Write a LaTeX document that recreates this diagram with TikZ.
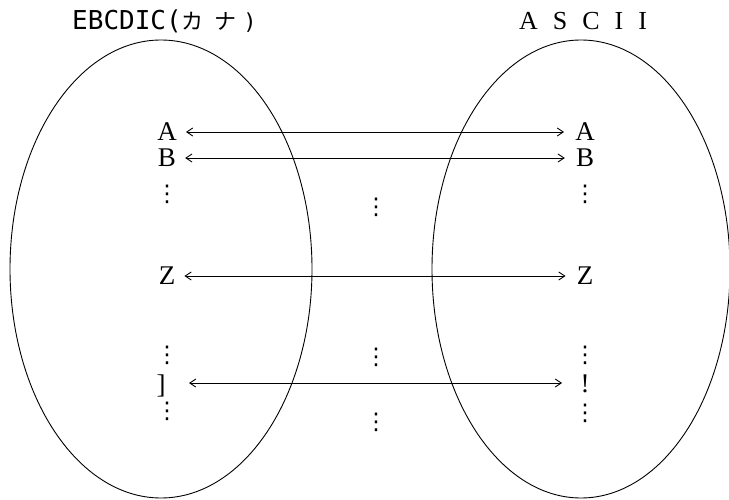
\documentclass[tikz,border=0pt]{standalone}
\usepackage{fontspec}
\setmainfont{Liberation Serif}
\newfontfamily\monof{DejaVu Sans Mono}
\newfontfamily\jpf{Noto Sans CJK JP}
\newfontfamily\symf{DejaVu Sans}
\usetikzlibrary{arrows.meta}
\begin{document}
\begin{tikzpicture}[x=1pt,y=-1pt,
  lab/.style={font=\fontsize{27}{27}\selectfont, inner sep=1pt},
  vd/.style={font=\symf\fontsize{23}{23}\selectfont, inner sep=0pt},
  conn/.style={<->, >={Straight Barb[length=6pt,width=8pt]}, line width=0.9pt},
  oval/.style={draw, line width=0.9pt}]
\useasboundingbox (0,0) rectangle (729,500);
% ellipses
\draw[oval] (161,269) ellipse [x radius=151, y radius=229];
\draw[oval] (581,269) ellipse [x radius=149, y radius=229];
% titles
\node[inner sep=0pt, anchor=west] (t1) at (72,21) {\monof\fontsize{26}{26}\selectfont EBCDIC(\jpf\fontsize{22}{22}\selectfont カ\hspace{0.5em}ナ\hspace{0.3em}\monof )};
\node[inner sep=0pt] (t2) at (583,21) {\fontsize{26}{26}\selectfont A\hspace{15pt}S\hspace{15pt}C\hspace{15pt}I\hspace{15pt}I};
% left column
\node[lab] (lA) at (167,132) {A};
\node[lab] (lB) at (167,158) {B};
\node[vd] (ld1) at (167,194) {⋮};
\node[lab] (lZ) at (167,276) {Z};
\node[vd] (ld2) at (167,355) {⋮};
\node[lab] (lR) at (161,386) {]};
\node[vd] (ld3) at (167,411) {⋮};
% right column
\node[lab] (rA) at (585,132) {A};
\node[lab] (rB) at (585,158) {B};
\node[vd] (rd1) at (585,194) {⋮};
\node[lab] (rZ) at (585,276) {Z};
\node[vd] (rd2) at (585,355) {⋮};
\node[lab] (rX) at (585,384) {!};
\node[vd] (rd3) at (585,413) {⋮};
% middle column
\node[vd] (md1) at (376,207) {⋮};
\node[vd] (md2) at (376,357) {⋮};
\node[vd] (md3) at (376,422) {⋮};
% connectors
\coordinate (lRe) at (189,383);
\coordinate (rXw) at (562,383);
\draw[conn] ([xshift=8pt]lA.east) -- ([xshift=-10pt]rA.west);
\draw[conn] ([xshift=8pt]lB.east) -- ([xshift=-10pt]rB.west);
\draw[conn] ([xshift=8pt]lZ.east) -- ([xshift=-10pt]rZ.west);
\draw[conn] (lRe) -- (rXw);
\end{tikzpicture}
\end{document}
